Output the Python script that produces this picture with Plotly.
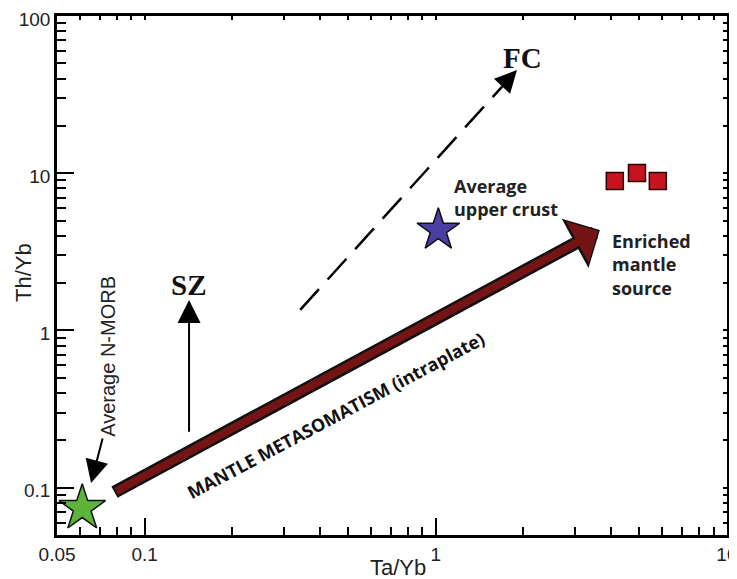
import numpy as np
import plotly.graph_objects as go

# ---------------- data ----------------
nmorb_x = [0.061]
nmorb_y = [0.074]
crust_x = [1.02]
crust_y = [4.35]
sample_x = [4.12, 4.91, 5.79]
sample_y = [8.92, 10.03, 8.92]

# trend arrows: [tail, head] in data units
mantle_arrow_x = [0.0778, 3.66]
mantle_arrow_y = [0.0925, 4.35]
sz_arrow_x = [0.142, 0.142]
sz_arrow_y = [0.222, 1.56]
fc_arrow_x = [0.342, 1.90]
fc_arrow_y = [1.35, 45.3]
morb_arrow_x = [0.0719, 0.0654]
morb_arrow_y = [0.21, 0.107]

x_tickvals = [0.05, 0.1, 1, 10]
x_ticktext = ["0.05", "0.1", "1", "10"]
y_tickvals = [0.1, 1, 10, 100]
y_ticktext = ["0.1", "1", "10", "100"]
x_minor = [0.06, 0.07, 0.08, 0.09, 0.2, 0.3, 0.4, 0.5, 0.6, 0.7, 0.8, 0.9,
           2, 3, 4, 5, 6, 7, 8, 9]
y_minor = [0.06, 0.07, 0.08, 0.09, 0.2, 0.3, 0.4, 0.5, 0.6, 0.7, 0.8, 0.9,
           2, 3, 4, 5, 6, 7, 8, 9, 20, 30, 40, 50, 60, 70, 80, 90]

XR = [np.log10(0.05) - 0.0003, 1.0003]
YR = [np.log10(0.05) - 0.0003, 2.0003]

L = np.log10
fig = go.Figure()

# FC dashed trend line
fig.add_trace(go.Scatter(x=fc_arrow_x, y=fc_arrow_y, mode="lines",
                         line=dict(color="black", width=2.5, dash="28px,13px"),
                         hoverinfo="skip", showlegend=False))

# points
fig.add_trace(go.Scatter(x=nmorb_x, y=nmorb_y, mode="markers",
                         marker=dict(symbol="star", size=35, color="#5cb43c",
                                     line=dict(color="#111", width=1.5)),
                         showlegend=False))
fig.add_trace(go.Scatter(x=crust_x, y=crust_y, mode="markers",
                         marker=dict(symbol="star", size=32, color="#4a3fa0",
                                     line=dict(color="#111", width=1.5)),
                         showlegend=False))
fig.add_trace(go.Scatter(x=sample_x, y=sample_y, mode="markers",
                         marker=dict(symbol="square", size=17, color="#c8141e",
                                     line=dict(color="#2a0000", width=1.5)),
                         showlegend=False))
# invisible trace for mirrored small ticks
fig.add_trace(go.Scatter(x=[1], y=[1], xaxis="x2", yaxis="y2", mode="markers",
                         marker=dict(opacity=0), hoverinfo="skip", showlegend=False))

ann = []
# mantle metasomatism thick arrow: black outline + dark red fill
ann.append(dict(x=L(mantle_arrow_x[1]), y=L(mantle_arrow_y[1]),
                ax=L(mantle_arrow_x[0]), ay=L(mantle_arrow_y[0]),
                xref="x", yref="y", axref="x", ayref="y", text="",
                showarrow=True, arrowhead=1, arrowsize=0.72, arrowwidth=13,
                arrowcolor="#111"))
ann.append(dict(x=L(mantle_arrow_x[1]), y=L(mantle_arrow_y[1]),
                ax=L(mantle_arrow_x[0]), ay=L(mantle_arrow_y[0]),
                xref="x", yref="y", axref="x", ayref="y", text="",
                showarrow=True, arrowhead=1, arrowsize=0.98, arrowwidth=8,
                arrowcolor="#741414", standoff=2, startstandoff=2))
# SZ arrow
ann.append(dict(x=L(sz_arrow_x[1]), y=L(sz_arrow_y[1]),
                ax=L(sz_arrow_x[0]), ay=L(sz_arrow_y[0]),
                xref="x", yref="y", axref="x", ayref="y", text="",
                showarrow=True, arrowhead=2, arrowsize=2.3, arrowwidth=2,
                arrowcolor="black"))
# N-MORB arrow
ann.append(dict(x=L(morb_arrow_x[1]), y=L(morb_arrow_y[1]),
                ax=L(morb_arrow_x[0]), ay=L(morb_arrow_y[0]),
                xref="x", yref="y", axref="x", ayref="y", text="",
                showarrow=True, arrowhead=2, arrowsize=2.3, arrowwidth=2,
                arrowcolor="black"))
# FC arrow head
ann.append(dict(x=L(fc_arrow_x[1]), y=L(fc_arrow_y[1]), ax=-12, ay=13,
                xref="x", yref="y", text="", showarrow=True, arrowhead=2,
                arrowsize=2.2, arrowwidth=2, arrowcolor="black"))

serif = "Liberation Serif"
sans = "Open Sans"
arial = "Liberation Sans"
ann.append(dict(x=L(0.141), y=L(1.95), xref="x", yref="y", text="<b>SZ</b>",
                showarrow=False, font=dict(family=serif, size=29, color="#111")))
ann.append(dict(x=L(1.99), y=L(54), xref="x", yref="y", text="<b>FC</b>",
                showarrow=False, font=dict(family=serif, size=29, color="#111")))
ann.append(dict(x=L(1.14), y=L(7.06), xref="x", yref="y",
                text="<b>Average<br>upper crust</b>", align="left", xanchor="left",
                showarrow=False, font=dict(family=sans, size=18, color="#222")))
ann.append(dict(x=L(3.96), y=L(2.64), xref="x", yref="y",
                text="<b>Enriched<br>mantle<br>source</b>", align="left", xanchor="left",
                showarrow=False, font=dict(family=sans, size=18, color="#222")))
ann.append(dict(x=L(0.0748), y=L(0.68), xref="x", yref="y",
                text="Average N-MORB", textangle=-90,
                showarrow=False, font=dict(family=arial, size=20, color="#222")))
ann.append(dict(x=L(0.454), y=L(0.29), xref="x", yref="y",
                text="<b>MANTLE METASOMATISM (intraplate)</b>", textangle=-28,
                showarrow=False, font=dict(family=sans, size=18, color="#111")))
# axis titles
ann.append(dict(x=(398 - 57) / 670, y=(535 - 567) / 519, xref="paper", yref="paper",
                text="Ta/Yb", showarrow=False, yanchor="middle",
                font=dict(family=arial, size=22, color="#222")))
ann.append(dict(x=(23 - 57) / 670, y=(535 - 273) / 519, xref="paper", yref="paper",
                text="Th/Yb", showarrow=False, textangle=-90, xanchor="center",
                yanchor="middle",
                font=dict(family=arial, size=22, color="#222")))

axis_common = dict(type="log", showgrid=False, zeroline=False, showline=True,
                   linecolor="black", linewidth=2.5, mirror=True, automargin=False,
                   ticks="inside", ticklen=17, tickwidth=2, tickcolor="black",
                   ticklabeloverflow="allow",
                   tickfont=dict(family=arial, size=19, color="#222"))

# the page adds an 8 px body margin, so the figure is sized/offset to compensate
fig.update_layout(
    width=729, height=571,
    margin=dict(l=49, r=10, t=8, b=44, autoexpand=False),
    paper_bgcolor="white", plot_bgcolor="white",
    showlegend=False,
    xaxis=dict(range=XR, tickmode="array", tickvals=x_tickvals, ticktext=x_ticktext,
               minor=dict(tickmode="array", tickvals=x_minor, ticks="inside",
                          ticklen=8, tickwidth=2, tickcolor="black"),
               **axis_common),
    yaxis=dict(range=YR, tickmode="array", tickvals=y_tickvals, ticktext=y_ticktext,
               ticklabelshift=3,
               minor=dict(tickmode="array", tickvals=y_minor, ticks="inside",
                          ticklen=9, tickwidth=2, tickcolor="black"),
               **axis_common),
    xaxis2=dict(type="log", range=XR, overlaying="x", side="top", anchor="y",
                showgrid=False, zeroline=False, showline=False, showticklabels=False,
                automargin=False,
                ticks="inside", ticklen=4, tickwidth=1.5, tickcolor="black",
                tickmode="array", tickvals=x_tickvals + x_minor),
    yaxis2=dict(type="log", range=YR, overlaying="y", side="right", anchor="x",
                showgrid=False, zeroline=False, showline=False, showticklabels=False,
                automargin=False,
                ticks="inside", ticklen=4, tickwidth=1.5, tickcolor="black",
                tickmode="array", tickvals=y_tickvals + y_minor),
    annotations=ann,
)

fig.write_html("out.html")
